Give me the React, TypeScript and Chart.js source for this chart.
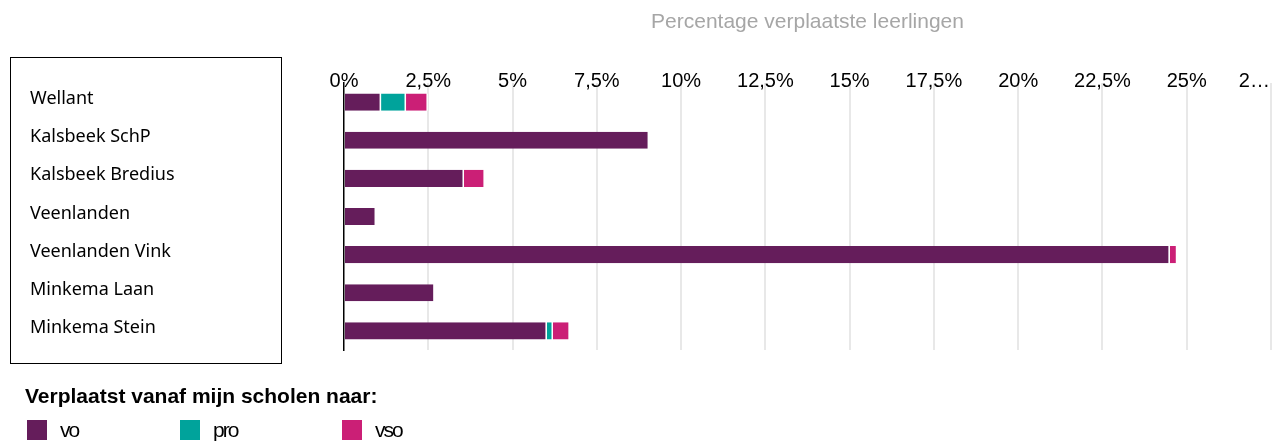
import React, { useEffect, useRef } from "react";
import { Chart, registerables } from "chart.js";

Chart.register(...registerables);

const categories = [
  "Wellant",
  "Kalsbeek SchP",
  "Kalsbeek Bredius",
  "Veenlanden",
  "Veenlanden Vink",
  "Minkema Laan",
  "Minkema Stein",
];
const seriesNames = ["vo", "pro", "vso"];
const voValues = [1.1, 9.05, 3.56, 0.95, 24.5, 2.69, 6.02];
const proValues = [0.74, 0, 0, 0, 0, 0, 0.18];
const vsoValues = [0.65, 0, 0.62, 0, 0.22, 0, 0.5];
const seriesColors = ["#651d5b", "#00a39b", "#cb1f76"];
const xTickLabels = ["0%", "2,5%", "5%", "7,5%", "10%", "12,5%", "15%", "17,5%", "20%", "22,5%", "25%", "2…\u2007\u2007\u2007"];
const xAxisTitle = "Percentage verplaatste leerlingen";
const legendTitle = "Verplaatst vanaf mijn scholen naar:";

const noLabelClip = {
  id: "noLabelClip",
  beforeDraw(chart: any) {
    const sx = chart.scales.x;
    if (sx) sx._computeLabelArea = () => undefined;
  },
};

export default function App() {
  const canvasRef = useRef<HTMLCanvasElement | null>(null);

  useEffect(() => {
    const canvas = canvasRef.current;
    if (!canvas) return;
    const seriesValues = [voValues, proValues, vsoValues];
    const chart = new Chart(canvas, {
      type: "bar",
      data: {
        labels: categories,
        datasets: seriesNames.map((name, i) => ({
          label: name,
          data: seriesValues[i],
          backgroundColor: seriesColors[i],
          borderColor: "#ffffff",
          borderWidth: { left: 0, top: 0, bottom: 0, right: 1.5 },
          borderSkipped: false,
          categoryPercentage: 1,
          barPercentage: 0.45,
        })),
      },
      options: {
        indexAxis: "y",
        animation: false,
        responsive: false,
        maintainAspectRatio: false,
        layout: { padding: { left: 30, right: 1, top: 0, bottom: 91 } },
        plugins: {
          legend: { display: false },
          tooltip: { enabled: false },
        },
        scales: {
          x: {
            position: "top",
            stacked: true,
            min: 0,
            max: 27.5,
            ticks: {
              stepSize: 2.5,
              padding: -10,
              color: "#000000",
              font: { family: "'Liberation Sans', Arial, sans-serif", size: 20 },
              maxRotation: 0,
              autoSkip: false,
              callback: (_v: any, i: number) => xTickLabels[i],
            },
            grid: {
              drawTicks: false,
              lineWidth: 2,
              color: (ctx: any) => (ctx.tick && ctx.tick.value === 0 ? "rgba(0,0,0,0)" : "#e8e8e8"),
            },
            border: { display: false },
            title: {
              display: true,
              text: xAxisTitle,
              color: "#a6a6a6",
              font: { family: "'Liberation Sans', Arial, sans-serif", size: 21 },
              padding: { top: 9.4, bottom: 44.4 },
            },
            afterFit: (scale: any) => {
              scale.paddingRight = 0;
            },
          },
          y: {
            stacked: true,
            grid: { display: false, drawTicks: false },
            border: { display: true, color: "#000000", width: 1.5 },
            ticks: {
              crossAlign: "far",
              labelOffset: -3,
              color: "#000000",
              font: { family: "'Noto Sans', sans-serif", size: 18 },
            },
            afterFit: (scale: any) => {
              scale.width = 314;
            },
          },
        },
      },
      plugins: [noLabelClip],
    });
    return () => chart.destroy();
  }, []);

  return (
    <div style={{ position: "fixed", left: 0, top: 0, width: 1272, height: 441, background: "#fff", fontFamily: "'Liberation Sans', Arial, sans-serif" }}>
      <div
        style={{
          position: "absolute",
          left: 10,
          top: 57,
          width: 272,
          height: 307,
          border: "1.5px solid #000",
          boxSizing: "border-box",
        }}
      />
      <canvas ref={canvasRef} width={1272} height={441} style={{ position: "absolute", left: 0, top: 0, width: 1272, height: 441 }} />
      <div
        style={{
          position: "absolute",
          left: 25,
          top: 384,
          fontSize: 21,
          fontWeight: "bold",
          lineHeight: "24px",
          color: "#000",
          whiteSpace: "nowrap",
        }}
      >
        {legendTitle}
      </div>
      {seriesNames.map((name, i) => {
        const lefts = [27, 180, 342];
        return (
          <div key={name} style={{ position: "absolute", left: lefts[i], top: 419, height: 21, display: "flex", alignItems: "center" }}>
            <div style={{ width: 20, height: 20, background: seriesColors[i] }} />
            <span style={{ marginLeft: 13, fontSize: 21, lineHeight: "21px", color: "#000", letterSpacing: "-2px" }}>{name}</span>
          </div>
        );
      })}
    </div>
  );
}
